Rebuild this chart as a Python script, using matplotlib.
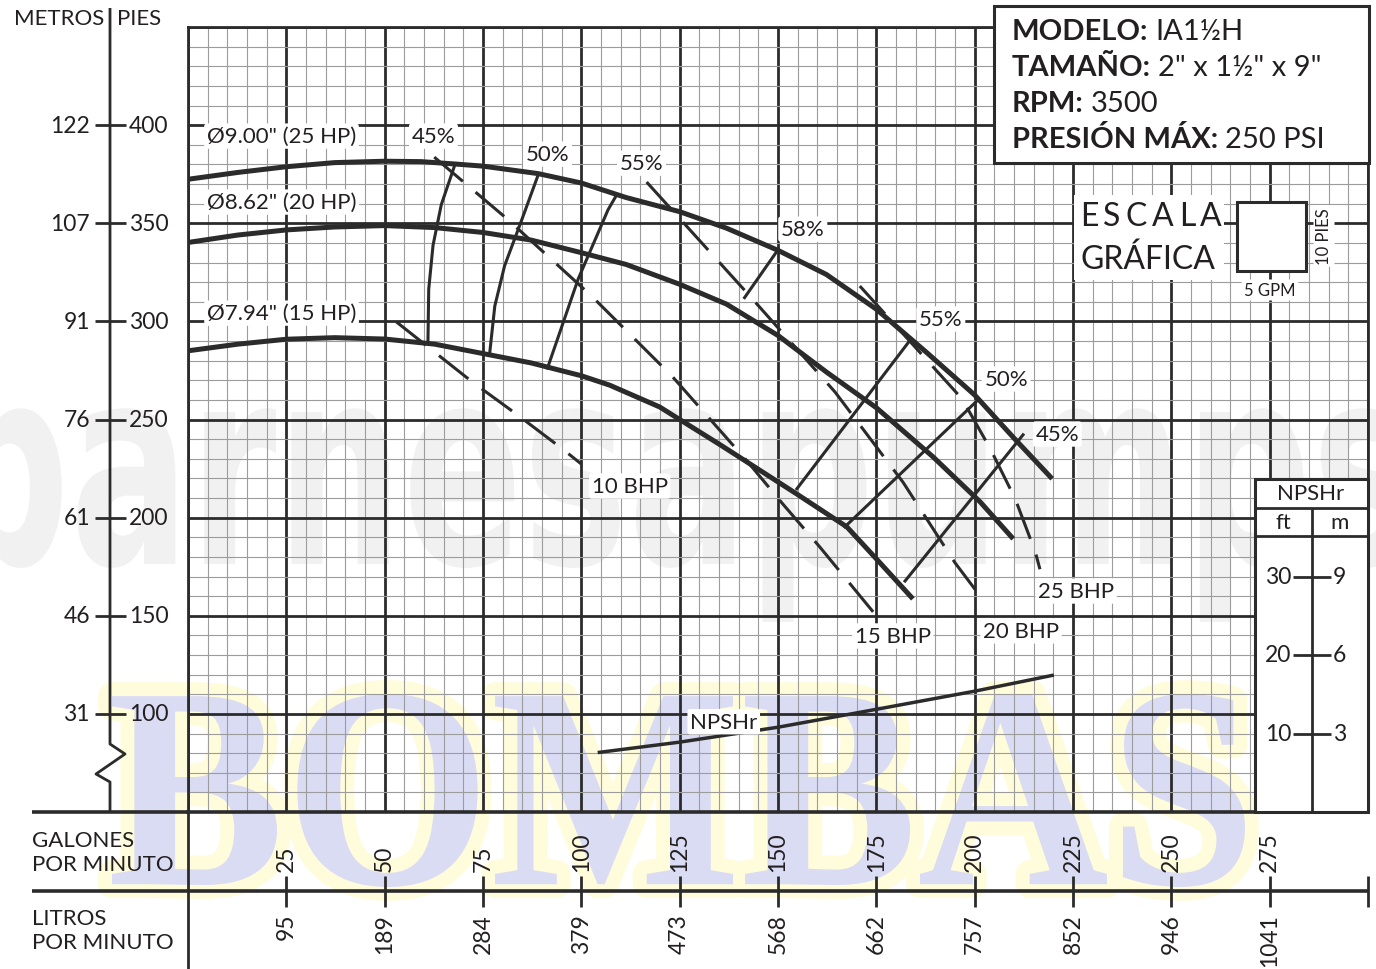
import matplotlib
matplotlib.use("Agg")
import matplotlib.pyplot as plt
import matplotlib.transforms as mtransforms
from matplotlib.lines import Line2D
from matplotlib.patches import Rectangle, PathPatch
from matplotlib.textpath import TextPath
from matplotlib.font_manager import FontProperties
from matplotlib.ticker import MultipleLocator

W, H = 1376, 970
INK = "#2b2b2b"
plt.rcParams["font.family"] = ["Lato", "DejaVu Sans"]
plt.rcParams["lines.scale_dashes"] = False
plt.rcParams["text.color"] = "#231f20"

# head curves, GPM vs feet
gpm_900 = [0, 12.7, 25, 37.3, 50, 59.3, 67.8, 75, 89, 100, 111.4, 125, 136.9, 150, 162.3, 175,
           187.7, 200, 210, 219.7]
head_900 = [372.4, 375.9, 378.8, 380.9, 381.6, 381.4, 380.2, 379.1, 375.3, 370.5, 363.1, 355.9,
            347.5, 336.2, 323.9, 306.2, 284.3, 262.5, 240.5, 219.8]
gpm_862 = [0, 12.7, 25, 37.3, 50, 62.7, 75, 87.3, 100, 111.4, 125, 136.9, 150, 162.3, 175,
           189.4, 201.4, 209.8]
head_862 = [340.2, 344, 346.6, 348.1, 348.8, 347.8, 345.3, 341.4, 335, 329, 318.9, 308.8,
            292.8, 274.2, 256, 231, 208, 189.2]
gpm_794 = [0, 12.7, 25, 37.3, 50, 62.7, 75, 87.3, 94.5, 100, 107.2, 119.9, 125, 135, 142,
           154.8, 167.5, 175, 184.3]
head_794 = [285, 288.4, 290.9, 291.7, 291, 288.4, 283.6, 278.8, 275.1, 272.3, 267.5, 256.4,
            250, 237.5, 228.5, 212, 195.3, 179, 158.6]

# efficiency lines
eff45_l_gpm = [67.8, 64.4, 62.3, 61.2, 61]
eff45_l_head = [379.5, 359.5, 338.8, 316.4, 289]
eff50_l_gpm = [89, 84.7, 80.5, 78, 76.7]
eff50_l_head = [374.5, 350.9, 328.4, 307.8, 283.8]
eff55_l_gpm = [109, 106.8, 99.2, 91.4]
eff55_l_head = [364.5, 356.9, 321.6, 276.2]
eff58_gpm = [150, 141.5]
eff58_head = [336.5, 312.1]
eff55_r_gpm = [183.5, 154.8]
eff55_r_head = [290.2, 214.7]
eff50_r_gpm = [200.6, 167]
eff50_r_head = [259.5, 195.3]
eff45_r_gpm = [212.3, 182.3]
eff45_r_head = [242.2, 167.7]

# brake horsepower lines
bhp10_gpm = [53, 72.3, 83.8, 95.2, 100]
bhp10_head = [299.7, 269.1, 252.3, 235, 227.3]
bhp15_gpm = [62.6, 81.2, 102.6, 123, 142.1, 151.2, 160.6, 175.2]
bhp15_head = [383.7, 352.1, 312.9, 272.2, 228.9, 207, 185.1, 149.5]
bhp20_gpm = [116.6, 142.8, 164.5, 181.8, 195, 201.4]
bhp20_head = [371, 313, 264, 218, 177, 160]
bhp25_gpm = [170.8, 196.8, 204, 210.3, 215.4, 216.6]
bhp25_head = [318, 260.5, 235, 209.6, 182.6, 173.7]

# NPSHr (ft)
npsh_gpm = [104.6, 125, 150, 175.2, 200.1, 219.7]
npsh_ft = [7.6, 8.9, 10.8, 13.1, 15.4, 17.4]

# axis labels
gpm_ticks = [25, 50, 75, 100, 125, 150, 175, 200, 225, 250, 275]
lpm_labels = ["95", "189", "284", "379", "473", "568", "662", "757", "852", "946", "1041"]
head_ticks = [100, 150, 200, 250, 300, 350, 400]
metros_labels = ["31", "46", "61", "76", "91", "107", "122"]
npsh_ticks_ft = [10, 20, 30]
npsh_ticks_m = ["3", "6", "9"]

curve_labels = [
    ("Ø9.00\" (25 HP)", 4.8, 394.4, "left"),
    ("Ø8.62\" (20 HP)", 4.8, 360.8, "left"),
    ("Ø7.94\" (15 HP)", 4.8, 304.2, "left"),
    ("45%", 62.4, 394.4, "center"),
    ("50%", 91.4, 385.2, "center"),
    ("55%", 115.3, 380.6, "center"),
    ("58%", 156.3, 347, "center"),
    ("55%", 191.4, 301.2, "center"),
    ("50%", 208, 270.6, "center"),
    ("45%", 221, 242.6, "center"),
    ("10 BHP", 112.3, 216.1, "center"),
    ("15 BHP", 179.2, 139.7, "center"),
    ("20 BHP", 211.8, 142.3, "center"),
    ("25 BHP", 225.8, 162.6, "center"),
    ("NPSHr", 136.2, 96, "center"),
]

info_bold = ["MODELO:", "TAMAÑO:", "RPM:", "PRESIÓN MÁX:"]
info_value = ["IA1½H", "2\" x 1½\" x 9\"", "3500", "250 PSI"]


def fx(px):
    return px / W


def fy(py):
    return 1 - py / H


def npsh_to_head(n):
    return 50 + 4.0 * n


fig = plt.figure(figsize=(W / 100, H / 100), dpi=100)
fig.patch.set_facecolor("white")
renderer = fig.canvas.get_renderer()


def fline(xs, ys, lw=2.0, zorder=3, transform=None):
    fig.add_artist(Line2D(xs, ys, transform=transform or fig.transFigure,
                          color=INK, lw=lw, solid_capstyle="butt", zorder=zorder))


def frect(x0, y0, x1, y1, lw=2.0, ec=INK, zorder=3):
    fig.add_artist(Rectangle((fx(x0), fy(y1)), fx(x1) - fx(x0), fy(y0) - fy(y1),
                             transform=fig.transFigure, fc="white", ec=ec, lw=lw, zorder=zorder))


# watermarks behind everything
bold_sans = FontProperties(family="DejaVu Sans", weight="bold")
tp = TextPath((0, 0), "barnesapumps", size=278, prop=bold_sans)
tr = mtransforms.Affine2D().scale(0.637, 1).translate(-57, H - 565)
fig.add_artist(PathPatch(tp, transform=tr, fc="#f1f1f1", ec="none", zorder=-3))

serif = FontProperties(family="Liberation Serif", weight="bold")
tp = TextPath((0, 0), "BOMBAS", size=200, prop=serif)
ext = tp.get_extents()
sx = (1245 - 112) / ext.width
sy = (888 - 695) / ext.height
tr = mtransforms.Affine2D().translate(-ext.x0, -ext.y0).scale(sx, sy).translate(112, H - 888)
fig.add_artist(PathPatch(tp, transform=tr, fc="#fffcdc", ec="#fffcdc", lw=20,
                         joinstyle="round", zorder=-2))
fig.add_artist(PathPatch(tp, transform=tr, fc="#dadcf4", ec="none", zorder=-1))

# main chart
ax = fig.add_axes([fx(188), fy(813), fx(1368) - fx(188), fy(28) - fy(813)])
ax.patch.set_alpha(0)
ax.set_xlim(0, 300)
ax.set_ylim(50, 450)
ax.xaxis.set_major_locator(MultipleLocator(25))
ax.xaxis.set_minor_locator(MultipleLocator(5))
ax.yaxis.set_major_locator(MultipleLocator(50))
ax.yaxis.set_minor_locator(MultipleLocator(10))
ax.grid(which="minor", color="#9c9c9c", lw=0.8)
ax.grid(which="major", color=INK, lw=2.0)
ax.set_axisbelow(True)
ax.tick_params(which="both", length=0, labelbottom=False, labelleft=False)
for side, sp in ax.spines.items():
    sp.set_color(INK)
    sp.set_linewidth(2.0)
ax.spines["bottom"].set_linewidth(2.6)

for g, h in [(gpm_900, head_900), (gpm_862, head_862), (gpm_794, head_794)]:
    ax.plot(g, h, color=INK, lw=3.6, solid_joinstyle="round", solid_capstyle="butt", zorder=4)

for g, h in [(eff45_l_gpm, eff45_l_head), (eff50_l_gpm, eff50_l_head), (eff55_l_gpm, eff55_l_head),
             (eff58_gpm, eff58_head), (eff55_r_gpm, eff55_r_head), (eff50_r_gpm, eff50_r_head),
             (eff45_r_gpm, eff45_r_head)]:
    ax.plot(g, h, color=INK, lw=2.2, solid_joinstyle="round", zorder=3)

for g, h in [(bhp10_gpm, bhp10_head), (bhp15_gpm, bhp15_head), (bhp20_gpm, bhp20_head),
             (bhp25_gpm, bhp25_head)]:
    ax.plot(g, h, color=INK, lw=2.2, dashes=(27, 12), zorder=3)

ax.plot(npsh_gpm, [npsh_to_head(n) for n in npsh_ft], color=INK, lw=2.5, zorder=3)

for s, g, h, ha in curve_labels:
    ax.text(g, h, s, fontsize=16, ha=ha, va="center", zorder=6,
            bbox=dict(boxstyle="round,pad=0.12", fc="white", ec="none"))

# left head scale
fline([fx(110), fx(110), fx(125), fx(96), fx(110), fx(110)],
      [fy(9), fy(745), fy(755), fy(775), fy(783), fy(813)])
fig.text(fx(104), fy(19), "METROS", fontsize=16, ha="right", va="center")
fig.text(fx(117), fy(19), "PIES", fontsize=16, ha="left", va="center")
trans_left = mtransforms.blended_transform_factory(fig.transFigure, ax.transData)
for h, m in zip(head_ticks, metros_labels):
    fline([fx(95), fx(126)], [h, h], transform=trans_left)
    fig.text(fx(90), h, m, fontsize=16.5, ha="right", va="center", transform=trans_left)
    fig.text(fx(129), h, str(h), fontsize=16.5, ha="left", va="center", transform=trans_left)

# bottom flow scales
fline([fx(32), fx(188)], [fy(813), fy(813)], lw=2.6)
fline([fx(32), fx(1368)], [fy(892), fy(892)], lw=2.6)
fline([fx(188), fx(188)], [fy(813), fy(975)], lw=2.0)
fline([fx(1368), fx(1368)], [fy(877), fy(908)], lw=2.0)
fig.text(fx(32), fy(841), "GALONES", fontsize=16, ha="left", va="center")
fig.text(fx(32), fy(865), "POR MINUTO", fontsize=16, ha="left", va="center")
fig.text(fx(32), fy(919), "LITROS", fontsize=16, ha="left", va="center")
fig.text(fx(32), fy(943), "POR MINUTO", fontsize=16, ha="left", va="center")
trans_bot = mtransforms.blended_transform_factory(ax.transData, fig.transFigure)
for g, l in zip(gpm_ticks, lpm_labels):
    fline([g, g], [fy(877), fy(908)], transform=trans_bot)
    fig.text(g, fy(872), str(g), fontsize=16.5, rotation=90, rotation_mode="anchor",
             ha="left", va="center", transform=trans_bot)
    fig.text(g, fy(914), l, fontsize=16.5, rotation=90, rotation_mode="anchor",
             ha="right", va="center", transform=trans_bot)

# NPSHr panel
frect(1255, 480, 1368, 813, lw=2.2)
fline([fx(1255), fx(1368)], [fy(509), fy(509)])
fline([fx(1255), fx(1368)], [fy(537), fy(537)])
fline([fx(1312), fx(1312)], [fy(509), fy(813)])
fig.text(fx(1311), fy(494), "NPSHr", fontsize=16, ha="center", va="center", zorder=4)
fig.text(fx(1283), fy(523), "ft", fontsize=16, ha="center", va="center", zorder=4)
fig.text(fx(1340), fy(523), "m", fontsize=16, ha="center", va="center", zorder=4)
for n, m in zip(npsh_ticks_ft, npsh_ticks_m):
    hh = npsh_to_head(n)
    fline([fx(1293), fx(1331)], [hh, hh], transform=trans_left, zorder=4)
    fig.text(fx(1291), hh, str(n), fontsize=16.5, ha="right", va="center",
             transform=trans_left, zorder=4)
    fig.text(fx(1333), hh, m, fontsize=16.5, ha="left", va="center",
             transform=trans_left, zorder=4)

# model info box
frect(994, 7, 1369, 164, lw=2.2)
for b, v, y in zip(info_bold, info_value, [32, 68, 104, 140]):
    t = fig.text(fx(1012), fy(y), b, fontsize=21, fontweight="bold", ha="left", va="center", zorder=4)
    bb = t.get_window_extent(renderer)
    fig.text((bb.x1 + 7) / W, fy(y), v, fontsize=21, ha="left", va="center", zorder=4)

# graphic scale legend
frect(1074, 196, 1224, 281, lw=0, ec="none")
frect(1237, 203, 1306, 272, lw=2.2)
x = 1080
for ch in "ESCALA":
    t = fig.text(fx(x), fy(217), ch, fontsize=23, ha="left", va="center", zorder=4)
    x += t.get_window_extent(renderer).width + 5
fig.text(fx(1080), fy(260), "GRÁFICA", fontsize=23, ha="left", va="center", zorder=4)
fig.text(fx(1270), fy(291), "5 GPM", fontsize=12, ha="center", va="center", zorder=4,
         bbox=dict(boxstyle="round,pad=0.15", fc="white", ec="none"))
fig.text(fx(1324), fy(237), "10 PIES", fontsize=12, ha="center", va="center", rotation=90,
         zorder=4, bbox=dict(boxstyle="round,pad=0.15", fc="white", ec="none"))

fig.savefig("out.png", dpi=100)
